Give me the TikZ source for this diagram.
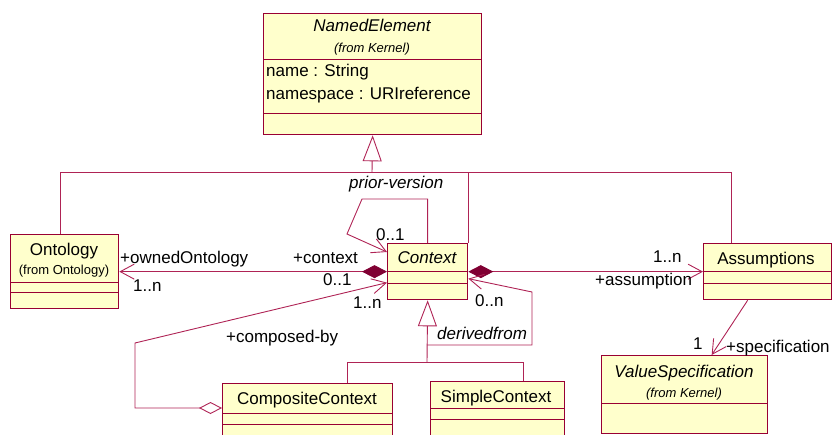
\documentclass[tikz,border=0pt]{standalone}
\usepackage{fontspec}
\setmainfont{Liberation Sans}
\usetikzlibrary{arrows.meta}
\definecolor{umlred}{RGB}{153,0,51}
\definecolor{umlwire}{RGB}{175,35,85}
\definecolor{umldia}{RGB}{128,0,51}
\definecolor{umlfill}{RGB}{255,255,204}
\tikzset{
  classbox/.style={draw=umlred, fill=umlfill, line width=1.3pt, anchor=north west, inner sep=0pt},
  divider/.style={draw=umlred, line width=1pt},
  link/.style={draw=umlwire, line width=0.9pt},
  navi/.tip={Straight Barb[length=14pt, width=15pt, line width=0.9pt]},
  comp/.tip={Diamond[length=25pt, width=13pt, color=umldia]},
  aggr/.tip={Diamond[open, length=23pt, width=12pt, line width=0.9pt]},
  isa/.style={-{Triangle[open, length=26pt, width=19pt, line width=0.9pt]}},
  lbl/.style={anchor=base west, inner sep=0pt, font=\fontsize{17}{20}\selectfont},
  title/.style={anchor=base, inner sep=0pt, font=\fontsize{17}{20}\selectfont},
  pkg/.style={anchor=base, inner sep=0pt, font=\fontsize{13}{15}\selectfont}
}
\begin{document}
\begin{tikzpicture}[x=1pt, y=-1pt]
	\clip (0,0) rectangle (834,435);
	% class boxes
	\node[classbox, minimum width=218pt, minimum height=121pt] (ne) at (263,13) {};
	\draw[divider] (263,60) -- (481,60);
	\draw[divider] (263,114) -- (481,114);
	\node[classbox, minimum width=108pt, minimum height=74pt] (ont) at (10,234) {};
	\draw[divider] (10,282) -- (118,282);
	\draw[divider] (10,292) -- (118,292);
	\node[classbox, minimum width=80pt, minimum height=56pt] (ctx) at (387,243) {};
	\draw[divider] (387,272) -- (467,272);
	\draw[divider] (387,283) -- (467,283);
	\node[classbox, minimum width=128pt, minimum height=56pt] (asm) at (703,243) {};
	\draw[divider] (703,272) -- (831,272);
	\draw[divider] (703,283) -- (831,283);
	\node[classbox, minimum width=166pt, minimum height=78pt] (vs) at (601,355) {};
	\draw[divider] (601,403) -- (767,403);
	\node[classbox, minimum width=170pt, minimum height=62pt] (comp) at (222,383) {};
	\draw[divider] (222,413) -- (392,413);
	\draw[divider] (222,424) -- (392,424);
	\node[classbox, minimum width=134pt, minimum height=64pt] (simp) at (430,381) {};
	\draw[divider] (430,408) -- (564,408);
	\draw[divider] (430,419) -- (564,419);
	% class texts
	\node[title] (neName) at (372,32) {\itshape NamedElement};
	\node[pkg] (nePkg) at (372,53) {\itshape (from Kernel)};
	\node[lbl] (neAttrA) at (266,77) {name : String};
	\node[lbl] (neAttrB) at (266,100) {namespace : URIreference};
	\node[title] (ontName) at (64,256) {Ontology};
	\node[pkg] (ontPkg) at (64,275) {(from Ontology)};
	\node[title] (ctxName) at (427,264) {\itshape Context};
	\node[title] (asmName) at (766,265) {Assumptions};
	\node[title] (vsName) at (684,377) {\itshape ValueSpecification};
	\node[pkg] (vsPkg) at (684,397) {\itshape (from Kernel)};
	\node[title] (compName) at (307,404) {CompositeContext};
	\node[title] (simpName) at (496,402) {SimpleContext};
	% generalizations
	\coordinate (genbar) at (372,172);
	\coordinate (subbar) at (427,362);
	\draw[link, isa] (genbar) -- (ne.south);
	\draw[link] ([xshift=-4pt]ont.north) |- (genbar);
	\draw[link] ([xshift=-36pt]asm.north) |- (genbar);
	\draw[link] (ctx.north east) -- (ctx.north east |- genbar);
	\draw[link, isa] (subbar) -- (ctx.south);
	\draw[link] ([xshift=40pt]comp.north) |- (subbar);
	\draw[link] ([xshift=26pt]simp.north) |- (subbar);
	% associations
	\draw[link, navi-comp] (ont.east) -- (ctx.west);
	\draw[link, comp-navi] (ctx.east) -- (asm.west);
	\draw[link, -navi] ([xshift=-20pt]asm.south) -- ([xshift=27pt]vs.north);
	\coordinate (priorA) at (362,199);
	\coordinate (priorB) at (347,234);
	\draw[link, -navi] (ctx.north) |- (priorA) -- (priorB) -- ([yshift=-9pt]ctx.north west);
	\coordinate (compA) at (135,343);
	\coordinate (compB) at (135,408);
	\draw[link, navi-aggr] ([yshift=-11pt]ctx.west) -- (compA) -- (compB) -- ([yshift=-25pt]comp.north west);
	\coordinate (dfrom) at (427,345);
	\coordinate (dfromB) at (532,292);
	\draw[link, -navi] (dfrom) -| (dfromB) -- ([yshift=-7pt]ctx.east);
	% role names and multiplicities
	\node[lbl] (roleOnt) at (120,264) {+ownedOntology};
	\node[lbl] (multOnt) at (133,291) {1..n};
	\node[lbl] (roleCtx) at (293,264) {+context};
	\node[lbl] (multCtx) at (323,286) {0..1};
	\node[lbl] (multComp) at (353,308) {1..n};
	\node[lbl] (roleComp) at (226,342) {+composed-by};
	\node[lbl] (namePrior) at (349,189) {\itshape prior-version};
	\node[lbl] (multPrior) at (376,241) {0..1};
	\node[lbl] (multDer) at (475,306) {0..n};
	\node[lbl] (nameDer) at (437,339) {\itshape derivedfrom};
	\node[lbl] (multAsm) at (653,262) {1..n};
	\node[lbl] (roleAsm) at (595,285) {+assumption};
	\node[lbl] (multVs) at (693,349) {1};
	\node[lbl] (roleVs) at (726,352) {+specification};
\end{tikzpicture}
\end{document}
